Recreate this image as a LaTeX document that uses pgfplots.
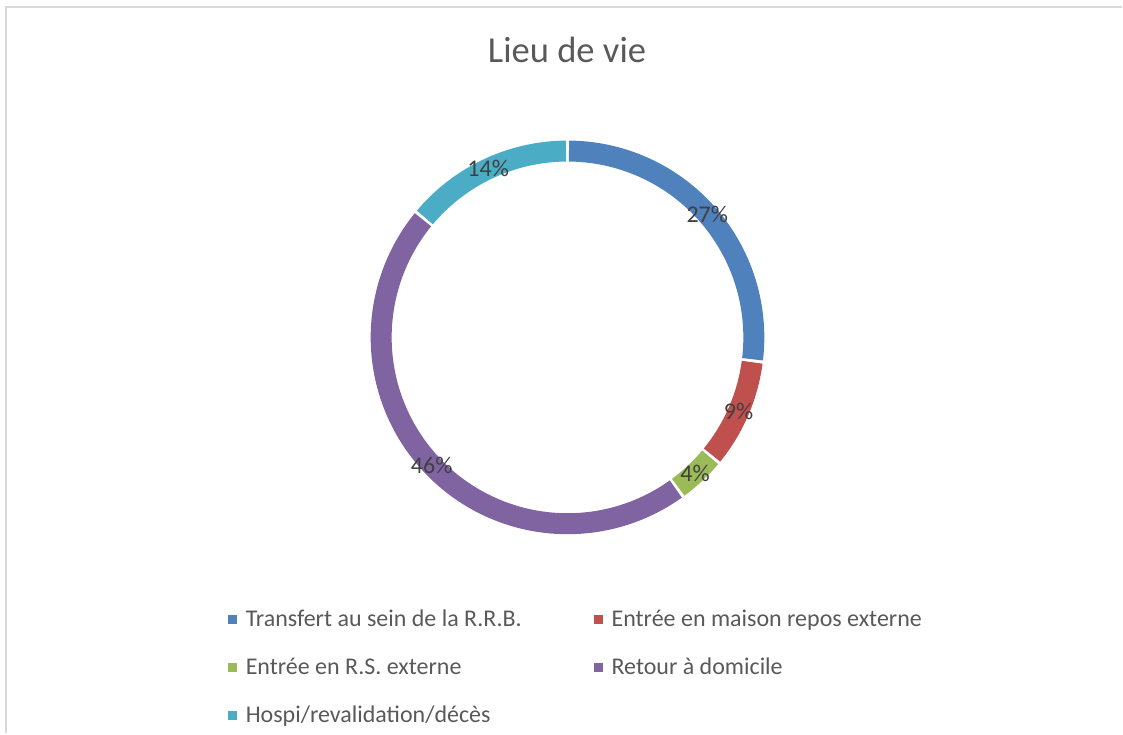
\documentclass[border=0pt]{standalone}
\usepackage{pgfplots}
\pgfplotsset{compat=1.18}
\usepackage{fontspec}
\setmainfont{Carlito}
\definecolor{cBlue}{HTML}{4F81BD}
\definecolor{cRed}{HTML}{C0504D}
\definecolor{cGreen}{HTML}{9BBB59}
\definecolor{cPurple}{HTML}{8064A2}
\definecolor{cCyan}{HTML}{4BACC6}
\definecolor{cLab}{HTML}{404040}
\definecolor{cTxt}{HTML}{595959}
\definecolor{cBorder}{HTML}{D9D9D9}
% data (percent)
\def\vA{27}\def\vB{9}\def\vC{4}\def\vD{46}\def\vE{14}
\begin{document}
\begin{tikzpicture}
\pgfmathsetmacro{\cx}{568}
\pgfmathsetmacro{\cy}{396.3}
\pgfmathsetmacro{\rr}{186.5}
\pgfmathsetmacro{\g}{0.46}
\pgfmathsetmacro{\aA}{90}
\pgfmathsetmacro{\aB}{\aA-3.6*\vA}
\pgfmathsetmacro{\aC}{\aB-3.6*\vB}
\pgfmathsetmacro{\aD}{\aC-3.6*\vC}
\pgfmathsetmacro{\aE}{\aD-3.6*\vD}
\pgfmathsetmacro{\aF}{\aE-3.6*\vE}
\pgfmathsetmacro{\sA}{\aB+\g}\pgfmathsetmacro{\eA}{\aA-\g}
\pgfmathsetmacro{\sB}{\aC+\g}\pgfmathsetmacro{\eB}{\aB-\g}
\pgfmathsetmacro{\sC}{\aD+\g}\pgfmathsetmacro{\eC}{\aC-\g}
\pgfmathsetmacro{\sD}{\aE+\g}\pgfmathsetmacro{\eD}{\aD-\g}
\pgfmathsetmacro{\sE}{\aF+\g}\pgfmathsetmacro{\eE}{\aE-\g}
\pgfmathsetmacro{\mA}{(\aA+\aB)/2}
\pgfmathsetmacro{\mB}{(\aB+\aC)/2}
\pgfmathsetmacro{\mC}{(\aC+\aD)/2}
\pgfmathsetmacro{\mD}{(\aD+\aE)/2}
\pgfmathsetmacro{\mE}{(\aE+\aF)/2}
\begin{axis}[
  scale only axis, width=1123pt, height=734pt,
  xmin=0, xmax=1123, ymin=0, ymax=734,
  hide axis, clip=false,
  legend columns=2,
  legend cell align=left,
  legend image code/.code={\fill[draw=none, line width=0pt] (0pt,-3.5pt) rectangle (9pt,5.5pt);},
  legend style={
    at={(axis description cs:0.2030,0.1699)}, anchor=north west,
    draw=none, fill=none, inner sep=0pt, outer sep=0pt,
    font=\fontsize{24}{28}\selectfont, text=cTxt,
    column sep=9pt, row sep=24pt,
    nodes={inner sep=0pt, text height=18pt, text depth=6pt},
    /tikz/every even column/.append style={column sep=72pt},
  },
]
\path (axis cs:0,0) rectangle (axis cs:1123,734);
\draw[color=cBorder, line width=2pt] (axis cs:5.7,0) -- (axis cs:5.7,726.7) -- (axis cs:1123,726.7);
\addplot[color=cBlue, line width=21pt, domain=\sA:\eA, samples=120] ({\cx+\rr*cos(x)},{\cy+\rr*sin(x)});
\addlegendentry{Transfert au sein de la R.R.B.}
\addplot[color=cRed, line width=21pt, domain=\sB:\eB, samples=60] ({\cx+\rr*cos(x)},{\cy+\rr*sin(x)});
\addlegendentry{Entrée en maison repos externe}
\addplot[color=cGreen, line width=21pt, domain=\sC:\eC, samples=30] ({\cx+\rr*cos(x)},{\cy+\rr*sin(x)});
\addlegendentry{Entrée en R.S. externe}
\addplot[color=cPurple, line width=21pt, domain=\sD:\eD, samples=180] ({\cx+\rr*cos(x)},{\cy+\rr*sin(x)});
\addlegendentry{Retour à domicile}
\addplot[color=cCyan, line width=21pt, domain=\sE:\eE, samples=80] ({\cx+\rr*cos(x)},{\cy+\rr*sin(x)});
\addlegendentry{Hospi/revalidation/décès}
\node[font=\fontsize{24}{28}\selectfont, text=cLab] at (axis cs:{\cx+\rr*cos(\mA)},{\cy+\rr*sin(\mA)}) {\vA\%};
\node[font=\fontsize{24}{28}\selectfont, text=cLab] at (axis cs:{\cx+\rr*cos(\mB)},{\cy+\rr*sin(\mB)}) {\vB\%};
\node[font=\fontsize{24}{28}\selectfont, text=cLab] at (axis cs:{\cx+\rr*cos(\mC)},{\cy+\rr*sin(\mC)}) {\vC\%};
\node[font=\fontsize{24}{28}\selectfont, text=cLab] at (axis cs:{\cx+\rr*cos(\mD)},{\cy+\rr*sin(\mD)}) {\vD\%};
\node[font=\fontsize{24}{28}\selectfont, text=cLab] at (axis cs:{\cx+\rr*cos(\mE)},{\cy+\rr*sin(\mE)}) {\vE\%};
\node[font=\fontsize{36.6}{44}\selectfont, text=cTxt, anchor=base] at (axis cs:567.5,671.3) {Lieu de vie};
\end{axis}
\end{tikzpicture}
\end{document}
